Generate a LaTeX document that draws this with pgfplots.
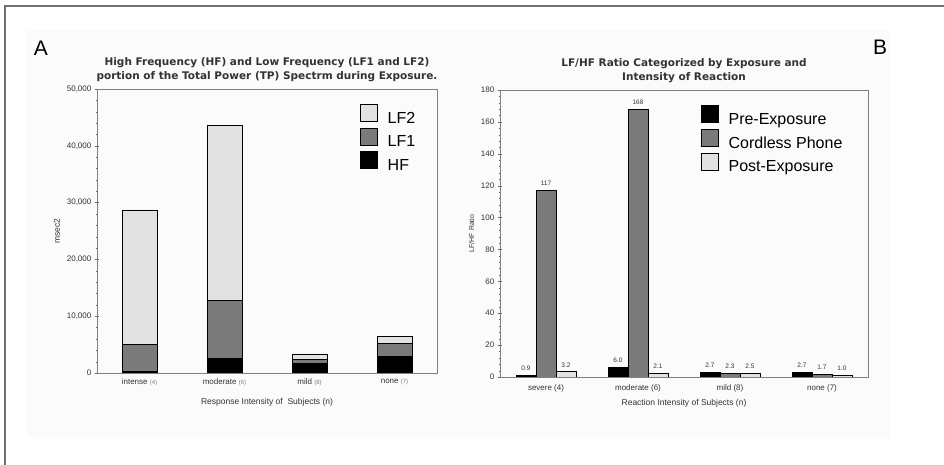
\documentclass[border=0pt]{standalone}
\usepackage{pgfplots}
\pgfplotsset{compat=1.18}
\usepackage{fontspec}
\setmainfont{Liberation Sans}
\newfontfamily\titlefont{DejaVu Sans}

\definecolor{midgray}{HTML}{7A7A7A}
\definecolor{lightgray}{HTML}{E2E2E2}
\definecolor{framegray}{HTML}{707070}
\definecolor{txt}{HTML}{333333}

\newcommand{\nsub}[1]{{\fontsize{6}{7}\selectfont\color{gray}(#1)}}

\pgfplotsset{
  panel/.style={
    scale only axis,
    anchor=south west,
    axis line style={gray},
    tick style={gray!80!black},
    tick align=center,
    xtick pos=bottom, ytick pos=left,
    xmin=-0.5, xmax=3.5,
    enlarge x limits=false,
    xtick={0,1,2,3},
    major x tick style={draw=none},
    ymin=0,
    /pgf/number format/assume math mode=true,
    /pgf/number format/1000 sep={,},
    scaled y ticks=false,
    tick label style={font=\fontsize{8}{9}\selectfont, text=txt},
    label style={font=\fontsize{8.5}{10}\selectfont, text=txt},
    title style={font=\titlefont\fontsize{10.5}{14}\selectfont\bfseries, align=center, text=txt, yshift=-2pt},
    legend style={draw=none, fill=none, font=\fontsize{16}{18}\selectfont,
      anchor=north west, row sep=1pt, text=black},
    legend cell align=left,
    every axis plot/.append style={draw=black, line width=0.8pt,
      legend image code/.code={\draw[##1, line width=0.8pt] (0pt,-3pt) rectangle (17pt,14pt);
        \path[draw=none, fill=none] (0pt,0pt) -- (25pt,0pt);}},
  }
}

\begin{document}
\begin{tikzpicture}
\useasboundingbox (0pt,0pt) rectangle (944pt,465pt);
\fill[gray!3] (27pt,28pt) rectangle (890pt,435pt);
\draw[framegray, line width=2pt] (5pt,0pt) -- (5pt,459pt) -- (944pt,459pt);
\node[font=\fontsize{21}{24}\selectfont] at (41pt,417pt) {A};
\node[font=\fontsize{21}{24}\selectfont] at (880pt,418pt) {B};

% Panel A
\begin{axis}[panel,
  at={(97pt,92pt)}, width=340pt, height=284pt,
  ybar stacked, bar width=35pt,
  ymax=50000, ytick distance=10000, minor y tick num=4,
  xticklabels={intense \nsub{4}, moderate \nsub{6}, mild \nsub{8}, none \nsub{7}},
  extra x ticks={0.5,1.5,2.5}, extra x tick labels={},
  extra x tick style={xtick pos=bottom, major tick length=4pt, tick align=outside},
  xlabel={Response Intensity of\ \ Subjects (n)},
  ylabel={msec2},
  title={High Frequency (HF) and Low Frequency (LF1 and LF2)\\portion of the Total Power (TP) Spectrm during Exposure.},
  legend style={at={(0.765,0.955)}},
  reverse legend,
]
\addplot[fill=black] coordinates {(0,300) (1,2600) (2,1700) (3,2850)};
\addlegendentry{HF}
\addplot[fill=midgray] coordinates {(0,4750) (1,10100) (2,700) (3,2400)};
\addlegendentry{LF1}
\addplot[fill=lightgray] coordinates {(0,23650) (1,30850) (2,950) (3,1150)};
\addlegendentry{LF2}
\end{axis}

% Panel B
\begin{axis}[panel,
  at={(500pt,88pt)}, width=368pt, height=287pt,
  ybar=0pt, bar width=20pt,
  ymax=180, ytick distance=20, minor y tick num=4,
  xticklabels={severe (4), moderate (6), mild (8), none (7)},
  xlabel={Reaction Intensity of Subjects (n)},
  ylabel={LF/HF Ratio},
  ylabel style={font=\fontsize{7}{8}\selectfont},
  title={LF/HF Ratio Categorized by Exposure and\\Intensity of Reaction},
  legend style={at={(0.538,0.955)}},
  point meta=explicit symbolic,
  nodes near coords,
  every node near coord/.append style={font=\fontsize{6.5}{7}\selectfont, text=txt, yshift=1pt},
]
\addplot[fill=black] coordinates {(0,0.9) [0.9] (1,6.0) [6.0] (2,2.7) [2.7] (3,2.7) [2.7]};
\addlegendentry{Pre-Exposure}
\addplot[fill=midgray] coordinates {(0,117) [117] (1,168) [168] (2,2.3) [2.3] (3,1.7) [1.7]};
\addlegendentry{Cordless Phone}
\addplot[fill=lightgray] coordinates {(0,3.2) [3.2] (1,2.1) [2.1] (2,2.5) [2.5] (3,1.0) [1.0]};
\addlegendentry{Post-Exposure}
\end{axis}
\end{tikzpicture}
\end{document}
